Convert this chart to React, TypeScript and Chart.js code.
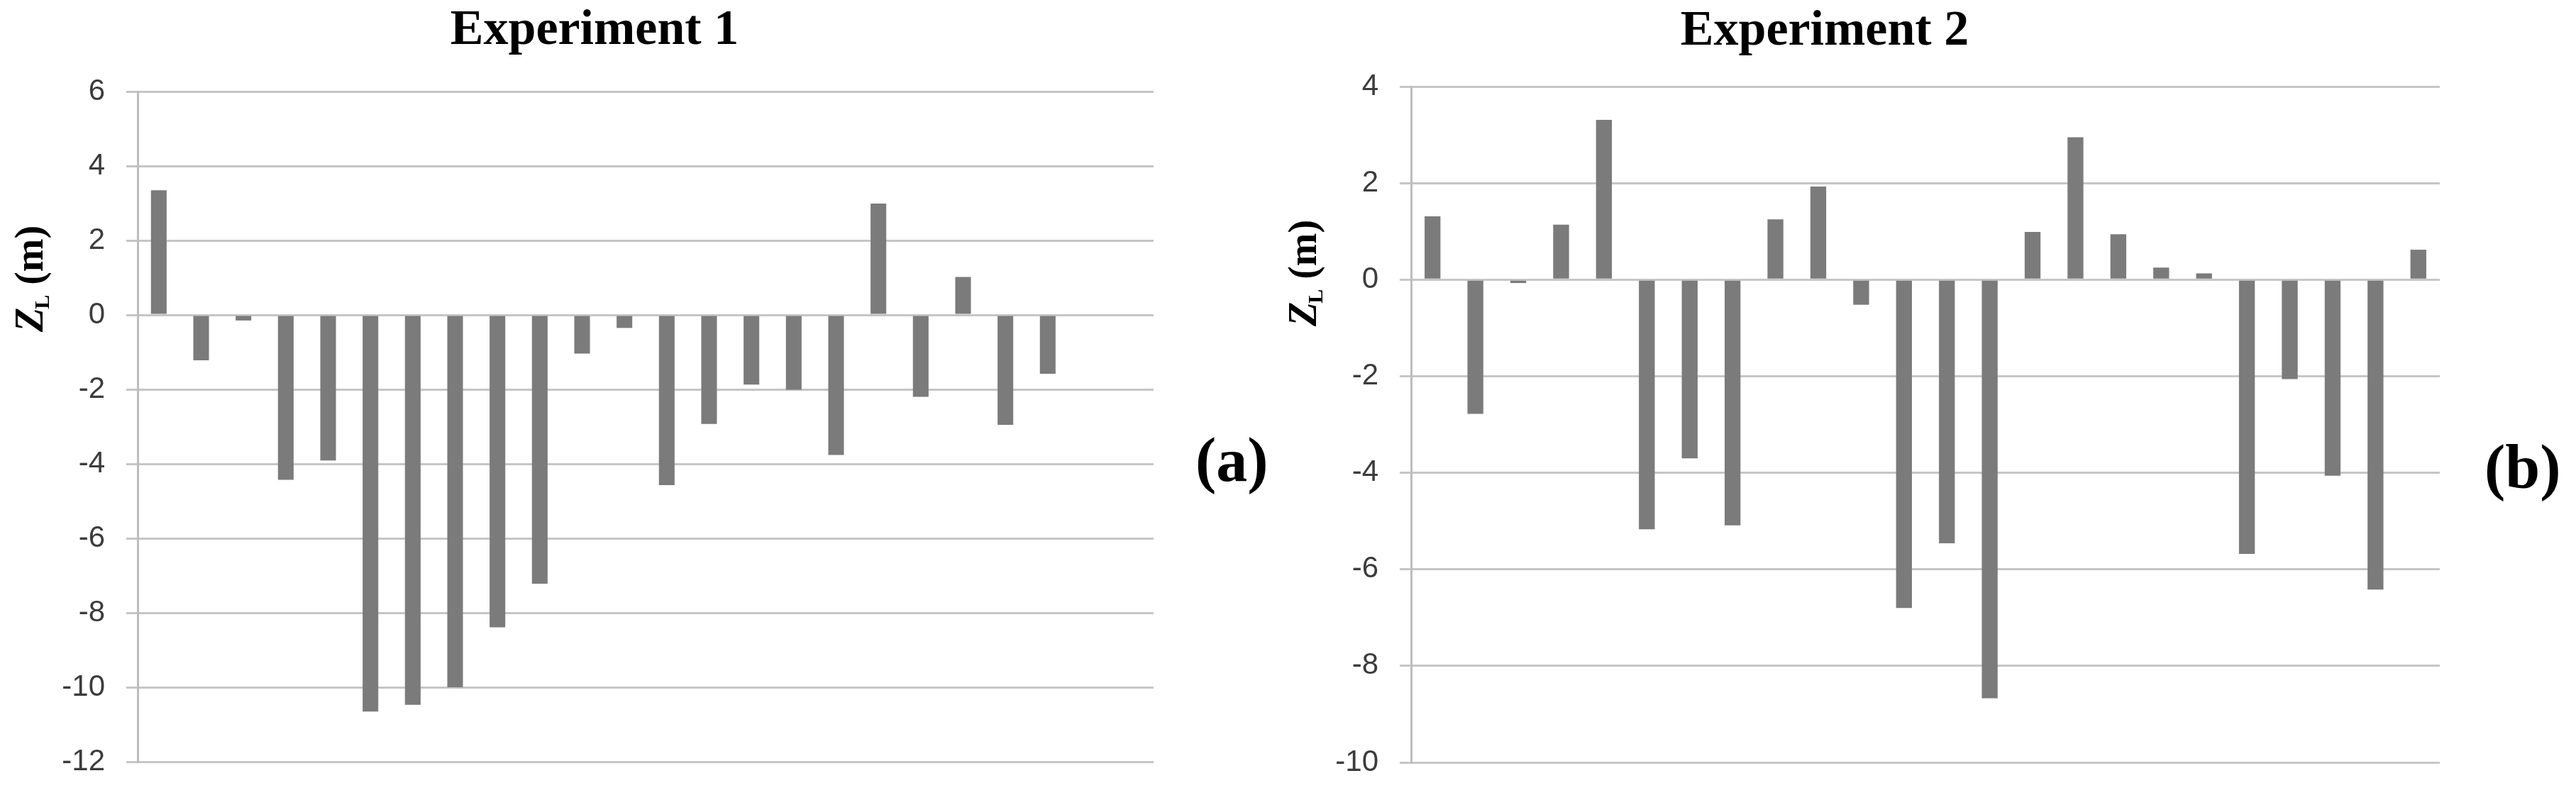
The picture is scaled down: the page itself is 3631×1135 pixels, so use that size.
import React, { useEffect, useRef } from "react";
import { Chart, registerables } from "chart.js";

Chart.register(...registerables);

// ---------- data ----------
const categories = [
  "1", "2", "3", "4", "5", "6", "7", "8", "9", "10", "11", "12",
  "13", "14", "15", "16", "17", "18", "19", "20", "21", "22", "23", "24",
];

const experiment1Values = [
  3.35, -1.22, -0.15, -4.43, -3.91, -10.65, -10.47, -10.0, -8.39, -7.22, -1.04,
  -0.35, -4.57, -2.93, -1.87, -2.01, -3.76, 2.99, -2.2, 1.02, -2.95, -1.58,
];

const experiment2Values = [
  1.31, -2.78, -0.07, 1.14, 3.31, -5.17, -3.7, -5.09, 1.25, 1.93, -0.52, -6.8,
  -5.46, -8.67, 0.99, 2.95, 0.94, 0.25, 0.13, -5.68, -2.06, -4.06, -6.42, 0.62,
];

const experiment1YTicks = [6, 4, 2, 0, -2, -4, -6, -8, -10, -12];
const experiment2YTicks = [4, 2, 0, -2, -4, -6, -8, -10];

const experiment1Title = "Experiment 1";
const experiment2Title = "Experiment 2";
const panelLetters = ["(a)", "(b)"];

// ---------- styling ----------
const SERIF = "'Liberation Serif', 'Times New Roman', Times, serif";
const SANS = "'Liberation Sans', Arial, sans-serif";
const BAR_COLOR = "#7b7b7b";
const GRID_COLOR = "#c6c6c6";
const AXIS_COLOR = "#bdbdbd";
const TICK_COLOR = "#3c3c3c";

type PanelSpec = {
  left: number;
  width: number;
  values: number[];
  yTicks: number[];
  title: string;
  letter: string;
  axisWidth: number;
  pad: { top: number; right: number; bottom: number };
  titleX: number;
  titleY: number;
  letterX: number;
  letterY: number;
  axisLabelX: number;
  axisLabelY: number;
};

function makeTextPlugin(spec: PanelSpec) {
  return {
    id: "panelText",
    afterDraw(chart: any) {
      const ctx = chart.ctx as CanvasRenderingContext2D;
      ctx.save();
      ctx.fillStyle = "#000";
      ctx.textBaseline = "alphabetic";

      // title
      ctx.font = `bold 70px ${SERIF}`;
      ctx.textAlign = "center";
      ctx.fillText(spec.title, spec.titleX, spec.titleY);

      // panel letter
      ctx.font = `bold 88px ${SERIF}`;
      ctx.textAlign = "left";
      ctx.fillText(spec.letter, spec.letterX, spec.letterY);

      // y-axis label  Z_L (m)
      ctx.translate(spec.axisLabelX, spec.axisLabelY);
      ctx.rotate(-Math.PI / 2);
      let x = 0;
      ctx.font = `italic bold 56px ${SERIF}`;
      ctx.fillText("Z", x, 0);
      x += ctx.measureText("Z").width;
      ctx.font = `bold 30px ${SERIF}`;
      ctx.fillText("L", x - 2, 9);
      x += ctx.measureText("L").width - 2;
      ctx.font = `bold 56px ${SERIF}`;
      ctx.fillText(" (m)", x, 0);
      ctx.restore();
    },
  };
}

function Panel({ spec }: { spec: PanelSpec }) {
  const ref = useRef<HTMLCanvasElement | null>(null);

  useEffect(() => {
    if (!ref.current) return;
    const yMin = Math.min(...spec.yTicks);
    const yMax = Math.max(...spec.yTicks);
    const chart = new Chart(ref.current, {
      type: "bar",
      data: {
        labels: categories,
        datasets: [
          {
            data: spec.values,
            backgroundColor: BAR_COLOR,
            borderWidth: 0,
            barPercentage: 0.37,
            categoryPercentage: 1.0,
          },
        ],
      },
      options: {
        responsive: false,
        animation: false,
        devicePixelRatio: 1,
        layout: {
          padding: {
            left: 0,
            right: spec.pad.right,
            top: spec.pad.top,
            bottom: spec.pad.bottom,
          },
        },
        plugins: {
          legend: { display: false },
          title: { display: false },
          tooltip: { enabled: false },
        },
        scales: {
          x: {
            display: false,
            offset: true,
          },
          y: {
            min: yMin,
            max: yMax,
            afterBuildTicks: (scale: any) => {
              scale.ticks = spec.yTicks.map((v) => ({ value: v }));
            },
            afterFit: (scale: any) => {
              scale.width = spec.axisWidth;
            },
            ticks: {
              color: TICK_COLOR,
              font: { family: SANS, size: 42 },
              padding: 30,
              callback: (v: any) => String(v),
            },
            grid: {
              color: GRID_COLOR,
              lineWidth: 3,
              tickLength: 16,
              tickColor: GRID_COLOR,
              drawTicks: true,
            },
            border: {
              display: true,
              color: AXIS_COLOR,
              width: 3,
            },
          },
        },
      },
      plugins: [makeTextPlugin(spec)],
    } as any);
    return () => chart.destroy();
  }, [spec]);

  return (
    <canvas
      ref={ref}
      width={spec.width}
      height={1135}
      style={{
        position: "absolute",
        left: spec.left,
        top: 0,
        width: spec.width,
        height: 1135,
      }}
    />
  );
}

const panel1: PanelSpec = {
  left: 0,
  width: 1800,
  values: experiment1Values,
  yTicks: experiment1YTicks,
  title: experiment1Title,
  letter: panelLetters[0],
  axisWidth: 194,
  pad: { top: 129, right: 1800 - 1626, bottom: 1135 - 1074 },
  titleX: 838,
  titleY: 62,
  letterX: 1685,
  letterY: 678,
  axisLabelX: 60,
  axisLabelY: 468,
};

const panel2: PanelSpec = {
  left: 1800,
  width: 1831,
  values: experiment2Values,
  yTicks: experiment2YTicks,
  title: experiment2Title,
  letter: panelLetters[1],
  axisWidth: 189,
  pad: { top: 122, right: 1831 - 1639, bottom: 1135 - 1075 },
  titleX: 772,
  titleY: 63,
  letterX: 1702,
  letterY: 688,
  axisLabelX: 55,
  axisLabelY: 460,
};

export default function App() {
  return (
    <div
      style={{
        position: "absolute",
        left: 0,
        top: 0,
        width: 3631,
        height: 1135,
        background: "#fff",
        overflow: "hidden",
      }}
    >
      <Panel spec={panel1} />
      <Panel spec={panel2} />
    </div>
  );
}
